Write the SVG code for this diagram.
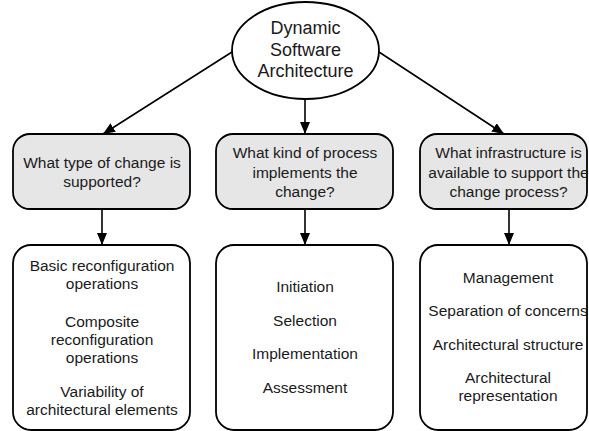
<svg xmlns="http://www.w3.org/2000/svg" width="589" height="431" viewBox="0 0 589 431">
<style>
.box{fill:#fff;stroke:#000;stroke-width:1.8}
.q{fill:#e6e6e6;stroke:#000;stroke-width:1.8}
.t{font-family:"Liberation Sans",Arial,sans-serif;font-size:15.5px;fill:#1a1a1a;text-anchor:middle}
.big{font-size:18px}
.c{stroke:#000;stroke-width:1.6;fill:none;marker-end:url(#ah)}
</style>
<defs>
<marker id="ah" markerUnits="userSpaceOnUse" markerWidth="13" markerHeight="11" refX="12" refY="5" orient="auto">
<path d="M0,0 L12,5 L0,10 z" fill="#000"/>
</marker>
</defs>
<g id="connectors">
<line class="c" x1="232" y1="52" x2="103" y2="134"/>
<line class="c" x1="305" y1="99" x2="305" y2="134"/>
<line class="c" x1="379" y1="52" x2="504" y2="134"/>
<line class="c" x1="102" y1="209" x2="102" y2="245"/>
<line class="c" x1="305" y1="209" x2="305" y2="245"/>
<line class="c" x1="509" y1="209" x2="509" y2="245"/>
</g>
<g id="root">
<ellipse class="box" cx="305.5" cy="50.5" rx="73.5" ry="48.5"/>
<text class="t big" x="305.5" y="34">Dynamic</text>
<text class="t big" x="305.5" y="56">Software</text>
<text class="t big" x="305.5" y="77">Architecture</text>
</g>
<g id="q1">
<rect class="q" x="13" y="134" width="177" height="75" rx="17"/>
<text class="t" x="102" y="168">What type of change is</text>
<text class="t" x="102" y="187">supported?</text>
</g>
<g id="q2">
<rect class="q" x="216" y="134" width="177" height="75" rx="17"/>
<text class="t" x="305" y="158">What kind of process</text>
<text class="t" x="305" y="177.5">implements the</text>
<text class="t" x="305" y="197">change?</text>
</g>
<g id="q3">
<rect class="q" x="420" y="134" width="167" height="75" rx="17"/>
<text class="t" x="508.5" y="158">What infrastructure is</text>
<text class="t" x="508.5" y="177.5">available to support the</text>
<text class="t" x="508.5" y="197">change process?</text>
</g>
<g id="a1">
<rect class="box" x="13" y="245" width="177" height="185" rx="18"/>
<text class="t" x="102" y="271">Basic reconfiguration</text>
<text class="t" x="102" y="289">operations</text>
<text class="t" x="102" y="327">Composite</text>
<text class="t" x="102" y="345">reconfiguration</text>
<text class="t" x="102" y="363">operations</text>
<text class="t" x="102" y="397">Variability of</text>
<text class="t" x="102" y="415">architectural elements</text>
</g>
<g id="a2">
<rect class="box" x="216" y="245" width="177" height="185" rx="18"/>
<text class="t" x="305" y="292">Initiation</text>
<text class="t" x="305" y="326">Selection</text>
<text class="t" x="305" y="359">Implementation</text>
<text class="t" x="305" y="393">Assessment</text>
</g>
<g id="a3">
<rect class="box" x="420" y="245" width="167" height="185" rx="18"/>
<text class="t" x="508" y="283">Management</text>
<text class="t" x="508" y="316">Separation of concerns</text>
<text class="t" x="508" y="350">Architectural structure</text>
<text class="t" x="508" y="383">Architectural</text>
<text class="t" x="508" y="401">representation</text>
</g>
</svg>
